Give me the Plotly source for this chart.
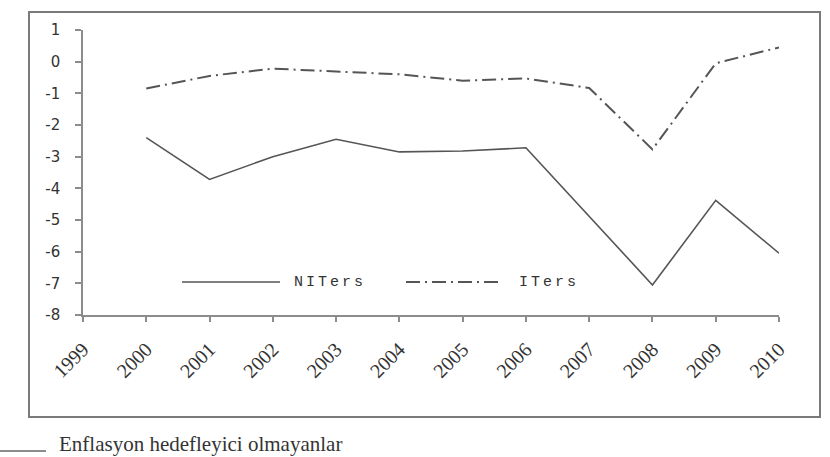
import plotly.graph_objects as go

years = [2000, 2001, 2002, 2003, 2004, 2005, 2006, 2007, 2008, 2009, 2010]
niters = [-2.4, -3.72, -3.0, -2.45, -2.85, -2.82, -2.72, -4.9, -7.05, -4.38, -6.05]
iters = [-0.85, -0.45, -0.22, -0.32, -0.4, -0.6, -0.53, -0.83, -2.77, -0.05, 0.45]
series_names = ["NITers", "ITers"]
x_ticks = list(range(1999, 2011))
y_ticks = list(range(-8, 2))
y_tick_labels = ["-8", "-7", "-6", "-5", "-4", "-3", "-2", "-1", "0", "1"]
footer_text = "Enflasyon hedefleyici olmayanlar"

W, H = 830, 457
L, R, T, B = 83, 779, 30, 315  # plot area pixels


def px(x):
    return (x - L) / (R - L)


def py(y):
    return (B - y) / (B - T)


line_color = "#555555"
axis_color = "#8c8c8c"

fig = go.Figure()
fig.add_trace(go.Scatter(x=years, y=niters, mode="lines", name=series_names[0],
                         line=dict(color=line_color, width=1.6), showlegend=False))
fig.add_trace(go.Scatter(x=years, y=iters, mode="lines", name=series_names[1],
                         line=dict(color=line_color, width=2, dash="14px,5px,2px,5px"),
                         showlegend=False))

shapes = [
    # outer frame
    dict(type="rect", xref="paper", yref="paper", x0=px(29), x1=px(820), y0=py(417), y1=py(12),
         line=dict(color="#7a7a7a", width=2), layer="below"),
    # legend samples
    dict(type="line", xref="paper", yref="paper", x0=px(182), x1=px(280), y0=py(282), y1=py(282),
         line=dict(color=line_color, width=1.6)),
    dict(type="line", xref="paper", yref="paper", x0=px(406), x1=px(503), y0=py(282), y1=py(282),
         line=dict(color=line_color, width=2, dash="14px,5px,2px,5px")),
    # footer line
    dict(type="line", xref="paper", yref="paper", x0=px(0), x1=px(46), y0=py(451), y1=py(451),
         line=dict(color="#666666", width=1.5)),
]

annotations = [
    dict(xref="paper", yref="paper", x=px(292), y=py(282), xanchor="left", yanchor="middle",
         text='<span style="letter-spacing:3px">%s</span>' % series_names[0], showarrow=False,
         font=dict(family="Liberation Mono", size=15, color="#333333")),
    dict(xref="paper", yref="paper", x=px(517), y=py(282), xanchor="left", yanchor="middle",
         text='<span style="letter-spacing:3px">%s</span>' % series_names[1], showarrow=False,
         font=dict(family="Liberation Mono", size=15, color="#333333")),
    dict(xref="paper", yref="paper", x=px(57), y=py(458), xanchor="left", yanchor="bottom",
         text=footer_text, showarrow=False,
         font=dict(family="Liberation Serif", size=21, color="#333333")),
]

fig.update_layout(
    width=W, height=H, autosize=False,
    margin=dict(l=L, r=W - R, t=T, b=H - B, pad=0),
    paper_bgcolor="white", plot_bgcolor="white",
    shapes=shapes, annotations=annotations,
    showlegend=False,
)
fig.update_xaxes(
    range=[1999, 2010], tickvals=x_ticks, ticktext=[str(v) for v in x_ticks],
    tickangle=-45, ticks="outside", ticklen=5, tickcolor=axis_color, tickwidth=1.5,
    showline=True, linecolor=axis_color, linewidth=1.5, showgrid=False, zeroline=False,
    ticklabelstandoff=8,
    tickfont=dict(family="Liberation Serif", size=20, color="#333333"),
)
fig.update_yaxes(
    range=[-8, 1], tickvals=y_ticks, ticktext=y_tick_labels, ticks="outside", ticklen=6,
    tickcolor=axis_color, tickwidth=1.5, showline=True, linecolor=axis_color, linewidth=1.5,
    showgrid=False, zeroline=False, ticklabelstandoff=12,
    tickfont=dict(family="DejaVu Sans", size=15, color="#333333"),
)

fig.write_html("out.html")
